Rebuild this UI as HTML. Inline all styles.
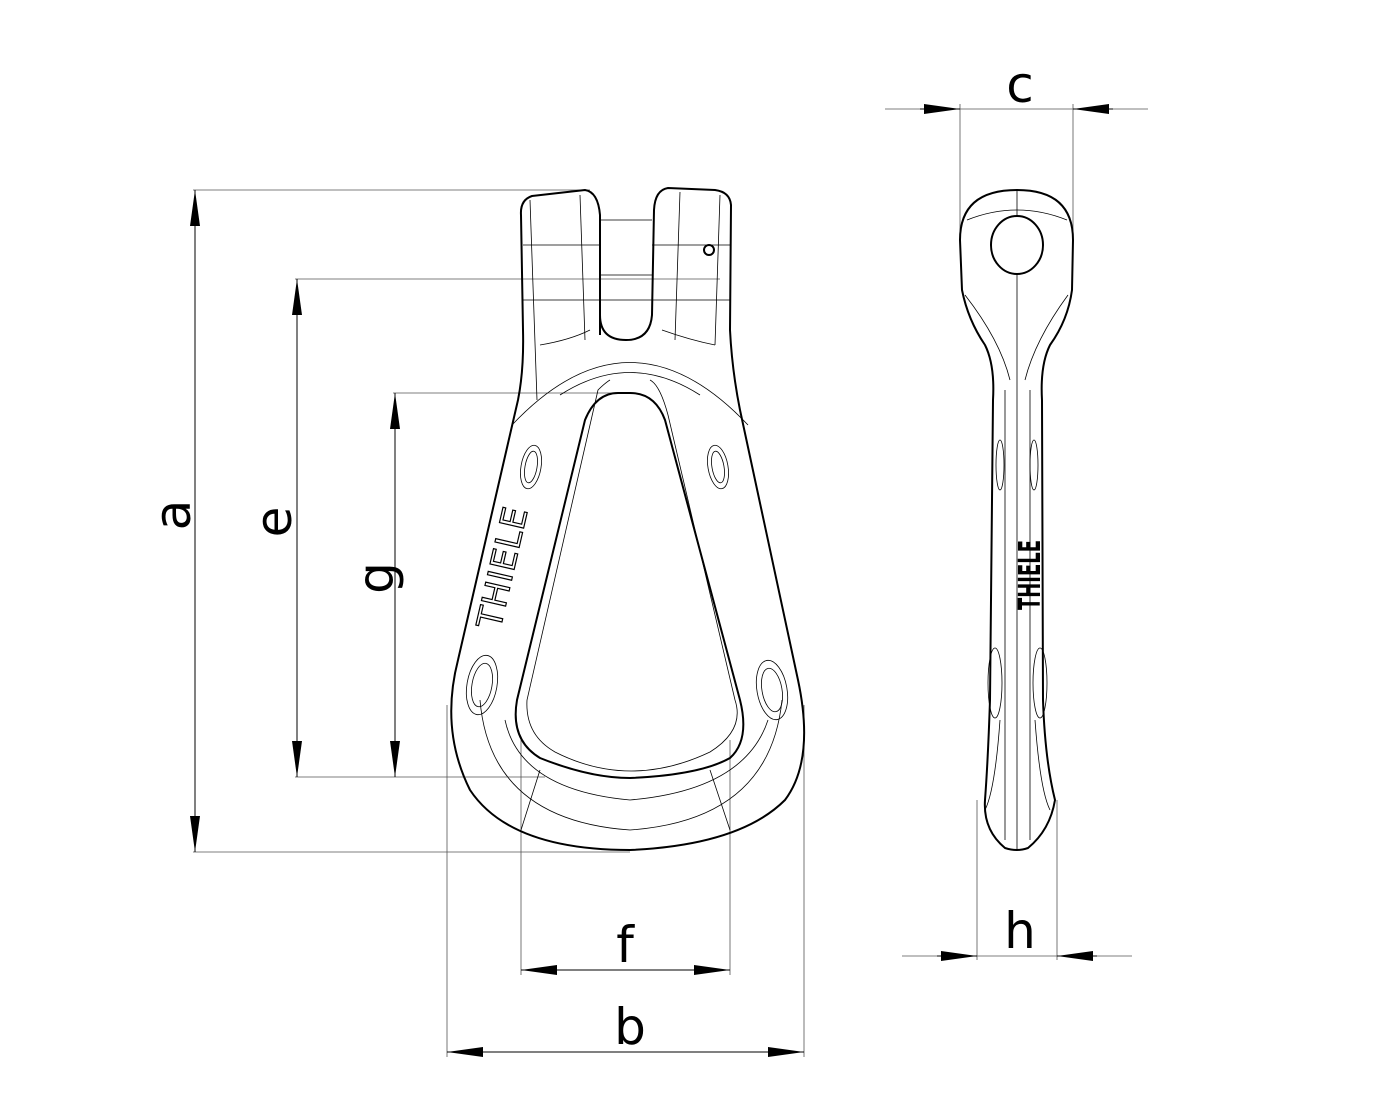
<!DOCTYPE html>
<html><head><meta charset="utf-8"><style>
html,body{margin:0;padding:0;background:#fff;}
svg{display:block;}
text{font-family:"DejaVu Sans","Liberation Sans",sans-serif;fill:#000;}
</style></head><body>
<svg width="1400" height="1120" viewBox="0 0 1400 1120" xmlns="http://www.w3.org/2000/svg">
<defs>
<marker id="ar" markerWidth="36" markerHeight="12" refX="36" refY="6" orient="auto" markerUnits="userSpaceOnUse">
<path d="M0,1 L36,6 L0,11 Z" fill="#000"/></marker>
</defs>
<g stroke="#555" stroke-width="0.8" fill="none">
<line x1="193" y1="190" x2="590" y2="190"/>
<line x1="193" y1="852" x2="630" y2="852"/>
<line x1="295" y1="279" x2="720" y2="279"/>
<line x1="295" y1="777" x2="545" y2="777"/>
<line x1="393" y1="393" x2="620" y2="393"/>
<line x1="521" y1="740" x2="521" y2="975"/>
<line x1="730" y1="740" x2="730" y2="975"/>
<line x1="447" y1="705" x2="447" y2="1057"/>
<line x1="804" y1="705" x2="804" y2="1057"/>
<line x1="960" y1="104" x2="960" y2="235"/>
<line x1="1073" y1="104" x2="1073" y2="235"/>
<line x1="977" y1="800" x2="977" y2="960"/>
<line x1="1057" y1="800" x2="1057" y2="960"/>
<line x1="885" y1="109" x2="1148" y2="109"/>
<line x1="902" y1="956" x2="1132" y2="956"/>
</g>
<g stroke="#000" stroke-width="1" fill="none">
<line x1="195" y1="520" x2="195" y2="190" marker-end="url(#ar)"/>
<line x1="195" y1="520" x2="195" y2="852" marker-end="url(#ar)"/>
<line x1="297" y1="520" x2="297" y2="279" marker-end="url(#ar)"/>
<line x1="297" y1="520" x2="297" y2="777" marker-end="url(#ar)"/>
<line x1="395" y1="580" x2="395" y2="393" marker-end="url(#ar)"/>
<line x1="395" y1="580" x2="395" y2="777" marker-end="url(#ar)"/>
<line x1="625" y1="970" x2="521" y2="970" marker-end="url(#ar)"/>
<line x1="625" y1="970" x2="730" y2="970" marker-end="url(#ar)"/>
<line x1="625" y1="1052" x2="447" y2="1052" marker-end="url(#ar)"/>
<line x1="625" y1="1052" x2="804" y2="1052" marker-end="url(#ar)"/>
<line x1="920" y1="109" x2="960" y2="109" marker-end="url(#ar)"/>
<line x1="1113" y1="109" x2="1073" y2="109" marker-end="url(#ar)"/>
<line x1="937" y1="956" x2="977" y2="956" marker-end="url(#ar)"/>
<line x1="1097" y1="956" x2="1057" y2="956" marker-end="url(#ar)"/>
</g>
<g font-size="50">
<text x="1020" y="102" text-anchor="middle">c</text>
<text x="1020" y="948" text-anchor="middle">h</text>
<text x="625" y="962" text-anchor="middle">f</text>
<text x="630" y="1044" text-anchor="middle">b</text>
<text transform="translate(190,515) rotate(-90)" text-anchor="middle">a</text>
<text transform="translate(291,522) rotate(-90)" text-anchor="middle">e</text>
<text transform="translate(393,578) rotate(-90)" text-anchor="middle">g</text>
</g>
<g stroke="#000" stroke-width="2" fill="none" stroke-linejoin="round">
<path d="M600,335 L600,215 Q598,192 585,190 L532,196 Q520,200 521,215 L523,330 Q524,370 518,400 L458,660 Q440,730 470,790 Q510,850 630,850 Q740,845 785,800 Q815,760 798,680 L740,410 Q732,370 730,330 L731,205 Q730,192 715,190 L668,188 Q655,190 654,210 L652,315 Q650,340 626,340 Q600,340 600,315"/>
<path d="M618,393 Q596,393 585,420 L517,700 Q510,740 540,758 Q590,778 630,778 Q700,775 730,758 Q750,740 740,700 L665,420 Q655,393 630,393 Z"/>
</g>
<g stroke="#000" stroke-width="0.8" fill="none">
<path d="M600,220 L652,220 M600,275 L652,275 M600,300 L652,300"/>
<path d="M523,245 L600,245 M652,245 L731,245 M523,300 L600,300 M652,300 L731,300"/>
<path d="M540,345 Q570,340 590,330 M715,345 Q690,340 662,330"/>
<path d="M560,395 Q630,350 700,395"/>
<path d="M512,425 Q630,300 748,425"/>
<path d="M610,380 Q605,383 598,390 L527,700 Q525,735 555,752 Q630,790 710,752 Q745,730 735,700 L668,415 Q660,385 650,380"/>
<path d="M505,720 Q520,790 630,800 Q745,790 768,720"/>
<path d="M480,700 Q490,820 630,830 Q770,820 782,700"/>
<path d="M540,770 L521,830 M710,770 L730,830"/>
<path d="M530,200 L537,400 M580,195 L585,340 M680,192 L675,340 M720,195 L715,345"/>
<ellipse cx="531" cy="467" rx="10" ry="22" transform="rotate(10 531 467)"/>
<ellipse cx="531" cy="467" rx="6" ry="16" transform="rotate(10 531 467)"/>
<ellipse cx="718" cy="467" rx="10" ry="22" transform="rotate(-10 718 467)"/>
<ellipse cx="718" cy="467" rx="6" ry="16" transform="rotate(-10 718 467)"/>
<ellipse cx="482" cy="685" rx="15" ry="30" transform="rotate(10 482 685)"/>
<ellipse cx="482" cy="685" rx="10" ry="22" transform="rotate(10 482 685)"/>
<ellipse cx="772" cy="690" rx="15" ry="30" transform="rotate(-10 772 690)"/>
<ellipse cx="772" cy="690" rx="10" ry="22" transform="rotate(-10 772 690)"/>
</g>
<circle cx="709" cy="250" r="5" stroke="#000" stroke-width="2" fill="none"/>
<text transform="translate(514,570) rotate(-77)" text-anchor="middle" font-size="34" style="fill:#fff;stroke:#000;stroke-width:1.2" letter-spacing="1">THIELE</text>
<g stroke="#000" stroke-width="2" fill="none" stroke-linejoin="round">
<path d="M1017,190 Q960,190 960,240 L962,290 Q968,320 985,345 Q995,365 993,400 L990,700 Q988,760 985,800 Q983,830 1005,848 Q1017,852 1028,848 Q1050,830 1055,800 Q1045,760 1043,700 L1042,400 Q1040,365 1050,345 Q1068,320 1072,290 L1073,240 Q1073,190 1017,190 Z"/>
<ellipse cx="1017" cy="245" rx="26" ry="29"/>
</g>
<g stroke="#000" stroke-width="0.8" fill="none">
<line x1="1017" y1="190" x2="1017" y2="216"/>
<line x1="1017" y1="274" x2="1017" y2="850"/>
<path d="M967,220 Q1017,200 1067,220 M965,295 Q1000,340 1010,380 M1068,295 Q1035,340 1025,380"/>
<path d="M1005,390 L1005,840 M1030,390 L1030,840 M1000,720 Q995,790 985,810 M1035,720 Q1040,790 1050,810"/>
<ellipse cx="1000" cy="465" rx="4" ry="25"/>
<ellipse cx="1034" cy="465" rx="4" ry="25"/>
<ellipse cx="995" cy="683" rx="7" ry="35"/>
<ellipse cx="1040" cy="683" rx="7" ry="35"/>
</g>
<text transform="translate(1040,575) rotate(-90) scale(0.6,1)" text-anchor="middle" font-size="30" font-weight="bold">THIELE</text>
</svg>
</body></html>
